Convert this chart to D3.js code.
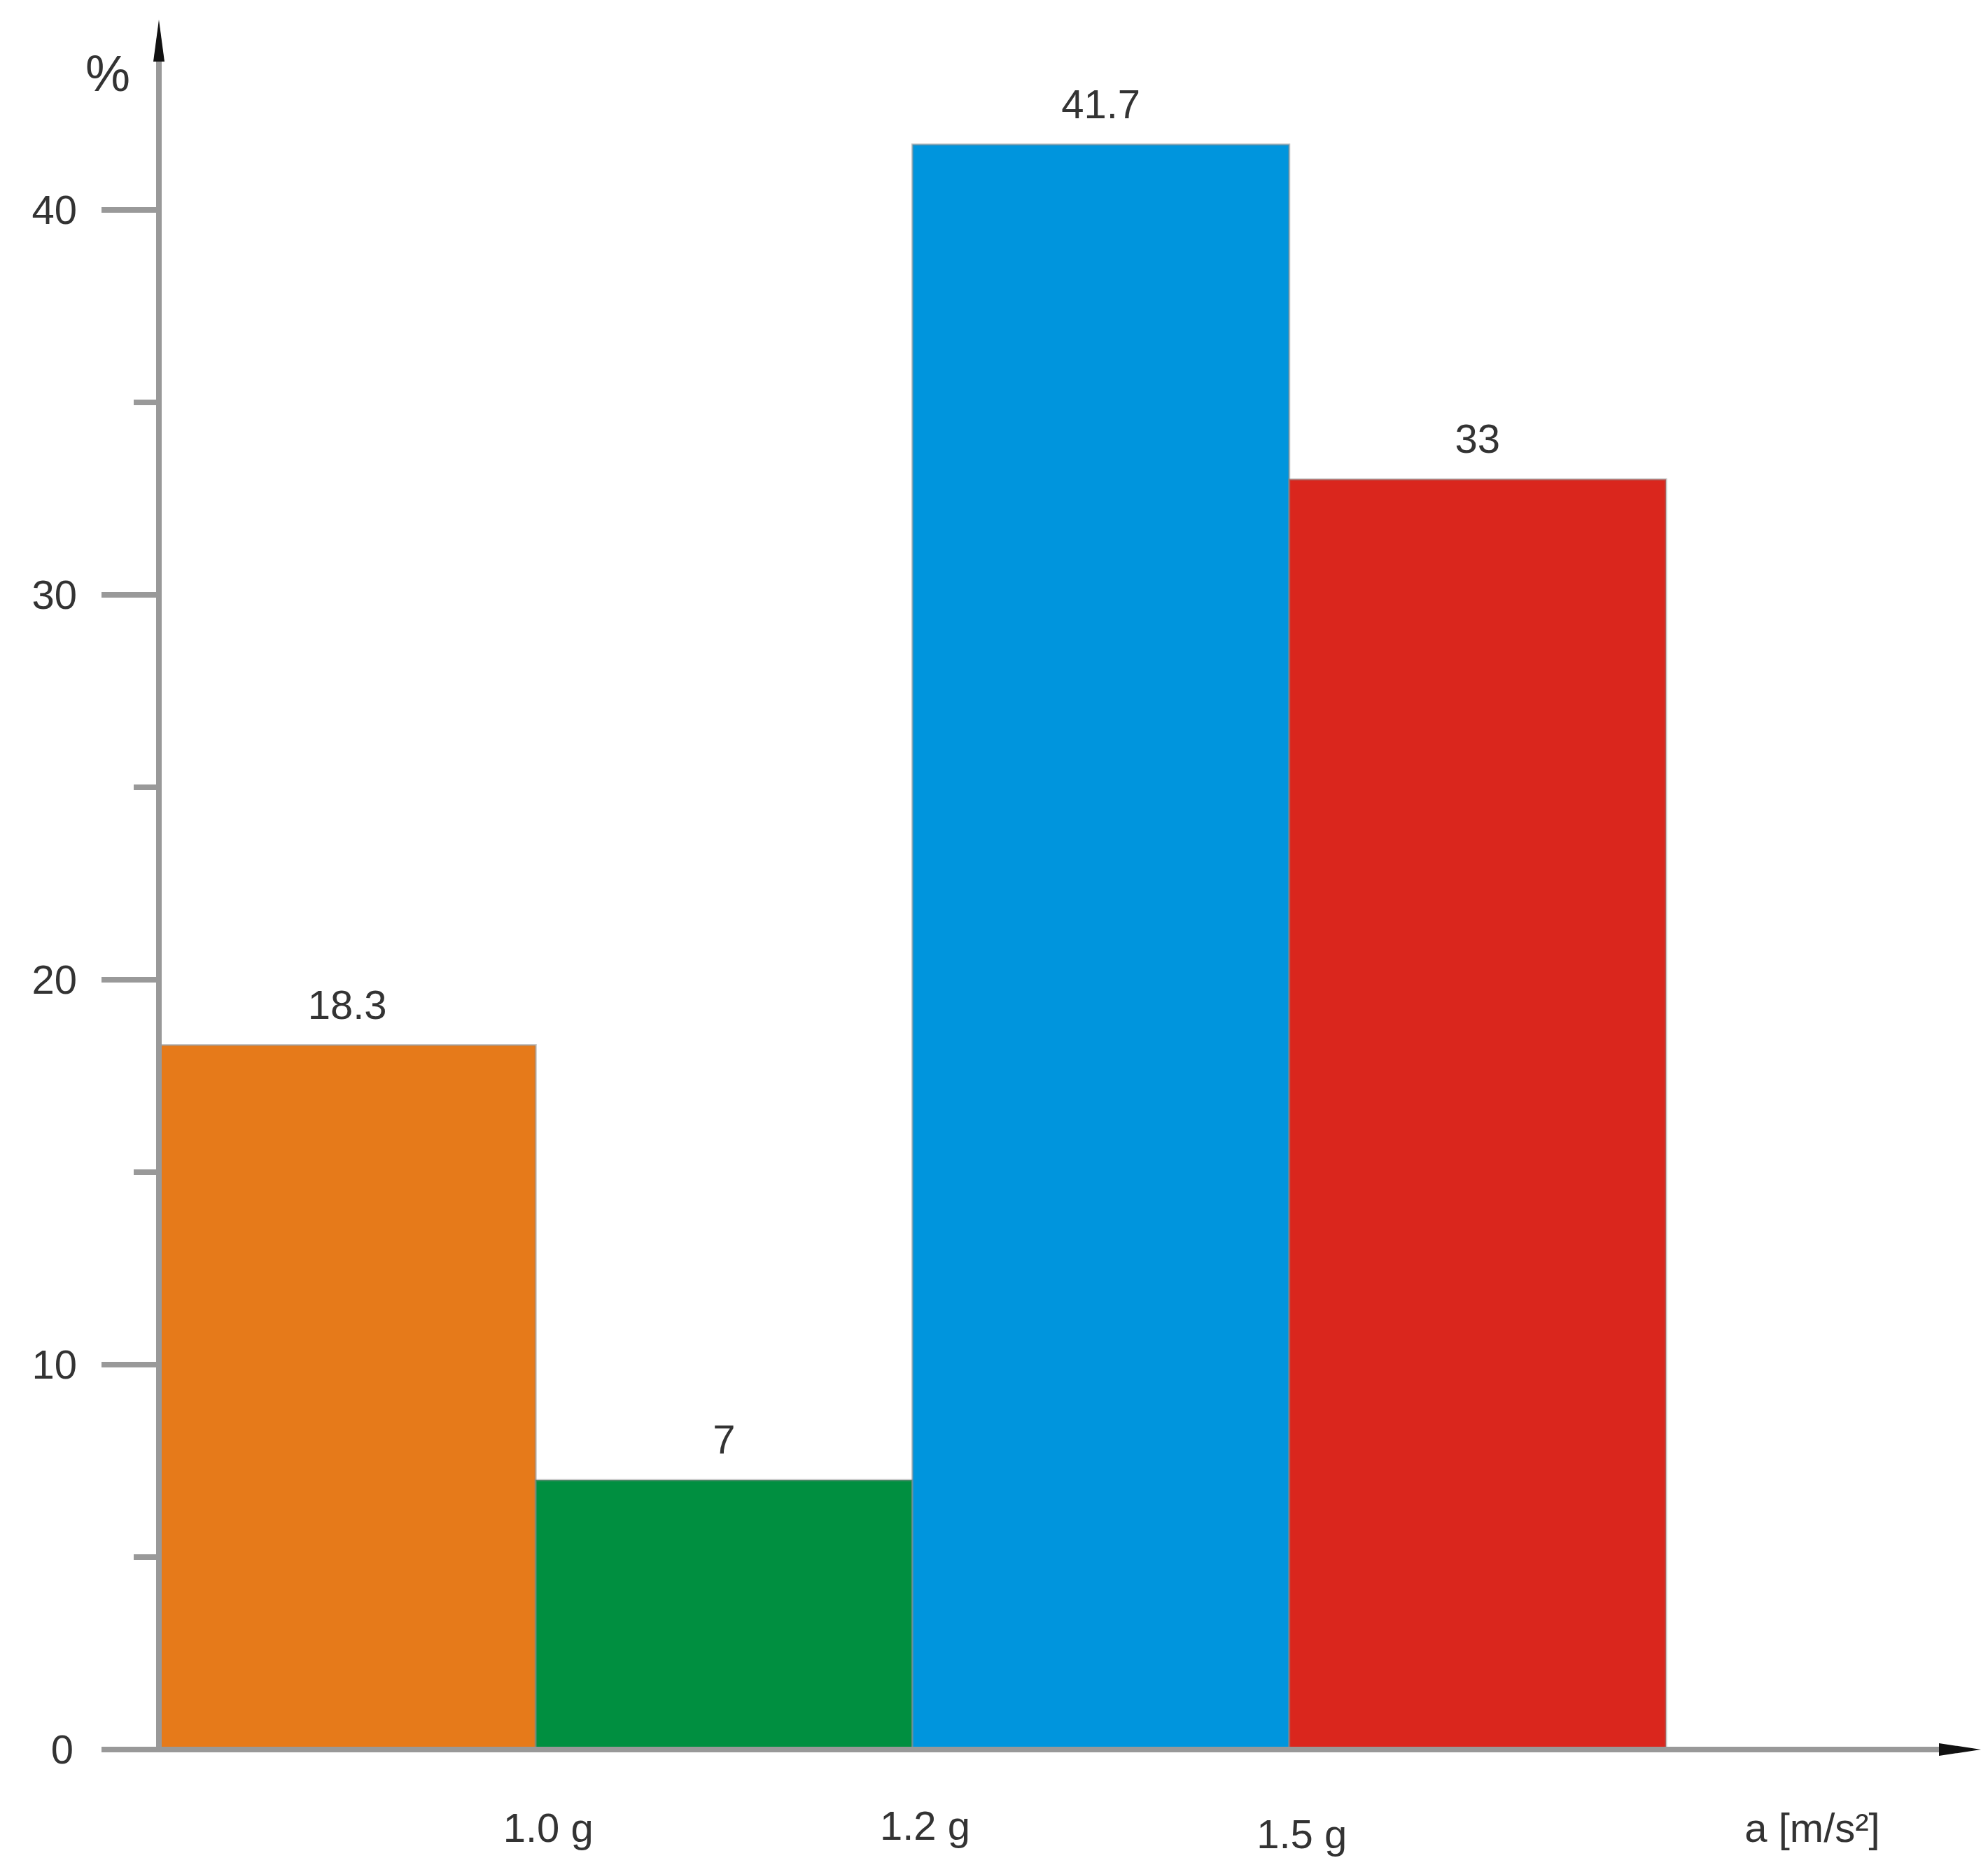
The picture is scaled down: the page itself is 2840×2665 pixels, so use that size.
<!DOCTYPE html>
<html><head><meta charset="utf-8">
<script src="https://cdn.jsdelivr.net/npm/d3@7"></script>
<style>body{margin:0;background:#fff}</style></head>
<body><svg id="c" width="2840" height="2665"></svg>
<script>
const categories = ["<1.0 g","1.0–1.2 g","1.2–1.5 g",">1.5 g"];
const values = [18.3, 7, 41.7, 33];
const valueLabels = ["18.3","7","41.7","33"];
const colors = ["#E67A1A","#008F40","#0095DD","#DA261D"];
const xTickLabels = ["1.0 g","1.2 g","1.5 g"];
const yTicks = [0,10,20,30,40];
const yMinor = [5,15,25,35];

const svg = d3.select("#c");
const font = "Liberation Sans, Arial, sans-serif";
const x = d3.scaleBand().domain(categories).range([227,2380]).padding(0);
const y = d3.scaleLinear().domain([0,40]).range([2500,300]);

// bars
svg.selectAll("rect.bar").data(values).join("rect")
  .attr("x",(d,i)=>x(categories[i])).attr("width",x.bandwidth())
  .attr("y",d=>y(d)).attr("height",d=>y(0)-y(d))
  .attr("fill",(d,i)=>colors[i]).attr("stroke","#888").attr("stroke-opacity",0.5).attr("stroke-width",3);

svg.selectAll("text.val").data(values).join("text")
  .attr("x",(d,i)=>x(categories[i])+x.bandwidth()/2).attr("y",d=>y(d)-38)
  .attr("text-anchor","middle").attr("font-family",font).attr("font-size",58).attr("fill","#333")
  .text((d,i)=>valueLabels[i]);

// y axis
const ax = svg.append("g").attr("stroke","#999").attr("stroke-width",8);
ax.append("line").attr("x1",227).attr("x2",227).attr("y1",y(0)).attr("y2",60);
svg.append("path").attr("d","M219,88 L227,28 L235,88 Z").attr("fill","#111");
ax.selectAll("line.maj").data(yTicks).join("line").attr("x1",145).attr("x2",227).attr("y1",d=>y(d)).attr("y2",d=>y(d));
ax.selectAll("line.min").data(yMinor).join("line").attr("x1",191).attr("x2",227).attr("y1",d=>y(d)).attr("y2",d=>y(d));
svg.selectAll("text.yt").data(yTicks).join("text")
  .attr("x",d=>d===0?105:110).attr("y",d=>y(d)+20).attr("text-anchor","end")
  .attr("font-family",font).attr("font-size",58).attr("fill","#333").text(d=>d);
svg.append("text").attr("x",154).attr("y",130).attr("text-anchor","middle")
  .attr("font-family",font).attr("font-size",72).attr("fill","#333").text("%");

// x axis
ax.append("line").attr("x1",145).attr("x2",2780).attr("y1",y(0)).attr("y2",y(0));
svg.append("path").attr("d",`M2770,${y(0)-9} L2830,${y(0)} L2770,${y(0)+9} Z`).attr("fill","#111");
const xl = [x(categories[1]), x(categories[2]), x(categories[3])];
const xdy = [0,-3,9];
svg.selectAll("text.xt").data(xTickLabels).join("text")
  .attr("x",(d,i)=>xl[i]+18).attr("y",(d,i)=>2632+xdy[i]).attr("text-anchor","middle")
  .attr("font-family",font).attr("font-size",58).attr("fill","#333").text(d=>d);
svg.append("text").attr("x",2589).attr("y",2632).attr("text-anchor","middle")
  .attr("font-family",font).attr("font-size",58).attr("fill","#333").text("a [m/s²]");
</script></body></html>
